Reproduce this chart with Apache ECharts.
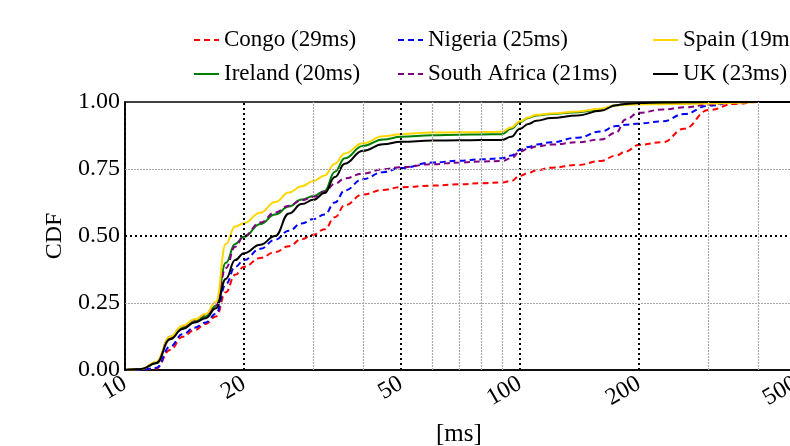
<!DOCTYPE html>
<html>
<head>
<meta charset="utf-8">
<script src="https://cdn.jsdelivr.net/npm/echarts@6/dist/echarts.min.js"></script>
<style>html,body{margin:0;padding:0;background:#fff;overflow:hidden;width:790px;height:446px;}#c{width:1040px;height:446px;}</style>
</head>
<body>
<div id="c"></div>
<script>
// latency grid [ms]
const ms = [10, 11, 12, 13, 14, 15, 16, 17, 18, 19, 20, 22, 24, 26, 28, 30, 32, 34, 36, 40, 45, 50, 60, 70, 80, 90, 95, 100, 105, 110, 120, 140, 160, 175, 185, 200, 230, 260, 300, 350, 400, 500, 1000];
const congo   = [0, 0.001, 0.006, 0.075, 0.124, 0.149, 0.172, 0.2, 0.29, 0.355, 0.385, 0.418, 0.44, 0.462, 0.488, 0.505, 0.525, 0.57, 0.615, 0.655, 0.672, 0.682, 0.688, 0.693, 0.697, 0.700, 0.705, 0.725, 0.735, 0.745, 0.755, 0.765, 0.78, 0.80, 0.815, 0.84, 0.85, 0.90, 0.970, 0.993, 1, 1, 1];
const ireland = [0, 0.003, 0.025, 0.12, 0.157, 0.18, 0.2, 0.24, 0.40, 0.47, 0.497, 0.545, 0.58, 0.61, 0.636, 0.649, 0.668, 0.74, 0.79, 0.836, 0.86, 0.87, 0.876, 0.878, 0.879, 0.88, 0.90, 0.925, 0.94, 0.95, 0.955, 0.962, 0.972, 0.988, 0.992, 0.995, 0.997, 0.998, 0.999, 1, 1, 1, 1];
const nigeria = [0, 0.001, 0.008, 0.087, 0.134, 0.158, 0.177, 0.21, 0.32, 0.385, 0.41, 0.452, 0.486, 0.52, 0.547, 0.563, 0.58, 0.625, 0.67, 0.712, 0.738, 0.754, 0.774, 0.781, 0.786, 0.79, 0.80, 0.821, 0.832, 0.841, 0.85, 0.867, 0.89, 0.91, 0.915, 0.92, 0.928, 0.955, 0.986, 0.999, 1, 1, 1];
const southAfrica = [0, 0.003, 0.028, 0.124, 0.163, 0.187, 0.207, 0.24, 0.38, 0.46, 0.5, 0.55, 0.588, 0.613, 0.633, 0.646, 0.665, 0.695, 0.715, 0.733, 0.749, 0.757, 0.768, 0.774, 0.778, 0.78, 0.79, 0.815, 0.826, 0.834, 0.841, 0.85, 0.86, 0.885, 0.935, 0.96, 0.972, 0.98, 0.99, 0.999, 1, 1, 1];
const spain   = [0, 0.004, 0.03, 0.124, 0.165, 0.189, 0.209, 0.255, 0.47, 0.535, 0.548, 0.587, 0.627, 0.662, 0.686, 0.705, 0.726, 0.77, 0.808, 0.846, 0.872, 0.88, 0.886, 0.887, 0.888, 0.889, 0.905, 0.928, 0.942, 0.952, 0.957, 0.965, 0.975, 0.988, 0.99, 0.991, 0.992, 0.993, 0.994, 0.997, 1, 1, 1];
const uk      = [0, 0.004, 0.026, 0.115, 0.153, 0.177, 0.193, 0.23, 0.34, 0.41, 0.436, 0.467, 0.5, 0.584, 0.619, 0.635, 0.66, 0.72, 0.77, 0.818, 0.842, 0.852, 0.856, 0.857, 0.858, 0.858, 0.87, 0.9, 0.918, 0.93, 0.94, 0.95, 0.967, 0.988, 0.993, 0.996, 0.998, 0.999, 1, 1, 1, 1, 1];

const xTickLabels = [10, 20, 50, 100, 200, 500];
const yTickLabels = [0, 0.25, 0.5, 0.75, 1];
const majorX = [10, 20, 50, 100, 200, 500];
const minorX = [30, 40, 60, 70, 80, 90, 300, 400];

const FONT = 'Liberation Serif';

function mk(name, vals, color, dashed) {
  return {
    name: name,
    type: 'line',
    data: ms.map((x, i) => [x, vals[i]]),
    symbol: 'none',
    smooth: 0.45,
    smoothMonotone: 'x',
    lineStyle: { color: color, width: 2, type: dashed ? [6, 4] : 'solid' },
    itemStyle: { color: color },
    z: 3,
    animation: false
  };
}

const gridLines = [];
majorX.forEach(v => gridLines.push({ xAxis: v, lineStyle: { color: '#000', width: 2, type: [2, 3] } }));
minorX.forEach(v => gridLines.push({ xAxis: v, lineStyle: { color: '#a8a8a8', width: 1.2, type: [2, 1] } }));
gridLines.push({ yAxis: 0.25, lineStyle: { color: '#a8a8a8', width: 1.2, type: [2, 1] } });
gridLines.push({ yAxis: 0.75, lineStyle: { color: '#a8a8a8', width: 1.2, type: [2, 1] } });
gridLines.push({ yAxis: 0.5, lineStyle: { color: '#000', width: 2, type: [2, 3] } });

const legendBase = {
  orient: 'vertical',
  top: 23,
  itemWidth: 25,
  itemHeight: 14,
  itemGap: 10,
  itemStyle: { opacity: 0 },
  textStyle: { fontFamily: FONT, fontSize: 23, color: '#000', lineHeight: 24 }
};

const chart = echarts.init(document.getElementById('c'), null, { renderer: 'canvas' });
chart.setOption({
  animation: false,
  backgroundColor: '#fff',
  legend: [
    Object.assign({}, legendBase, { left: 188, data: ['Congo (29ms)', 'Ireland (20ms)'] }),
    Object.assign({}, legendBase, { left: 392, data: ['Nigeria (25ms)', 'South Africa (21ms)'] }),
    Object.assign({}, legendBase, { left: 647, data: ['Spain (19ms)', 'UK (23ms)'] })
  ],
  grid: { left: 125, right: 125, top: 102, bottom: 76, show: true, borderColor: '#000', borderWidth: 1.5, containLabel: false },
  xAxis: {
    type: 'log', logBase: 10, min: 10, max: 1000,
    axisLine: { show: true, lineStyle: { color: '#000', width: 1.5 } },
    axisTick: { show: false },
    splitLine: { show: false },
    minorSplitLine: { show: false },
    axisLabel: {
      customValues: xTickLabels,
      rotate: 30,
      margin: 12,
      fontFamily: FONT, fontSize: 24, color: '#000',
      formatter: v => String(v)
    }
  },
  yAxis: {
    type: 'value', min: 0, max: 1, interval: 0.25,
    name: 'CDF', nameLocation: 'middle', nameGap: 54, nameRotate: 90,
    nameTextStyle: { fontFamily: FONT, fontSize: 24, color: '#000' },
    axisLine: { show: true, lineStyle: { color: '#000', width: 1.5 } },
    axisTick: { show: false },
    splitLine: { show: false },
    axisLabel: {
      customValues: yTickLabels,
      margin: 5,
      fontFamily: FONT, fontSize: 24, color: '#000',
      formatter: v => v.toFixed(2)
    }
  },
  graphic: [{
    type: 'text', left: 436, top: 422,
    style: { text: '[ms]', fontFamily: FONT, fontSize: 25, fill: '#000' }
  }],
  series: [
    {
      name: 'grid', type: 'line', data: [], silent: true, z: 1,
      markLine: { silent: true, symbol: 'none', label: { show: false }, animation: false, data: gridLines }
    },
    mk('Congo (29ms)', congo, '#ff0000', true),
    mk('Ireland (20ms)', ireland, '#008000', false),
    mk('Nigeria (25ms)', nigeria, '#0000ff', true),
    mk('South Africa (21ms)', southAfrica, '#800080', true),
    mk('Spain (19ms)', spain, '#ffd700', false),
    mk('UK (23ms)', uk, '#000000', false)
  ]
});
</script>
</body>
</html>
